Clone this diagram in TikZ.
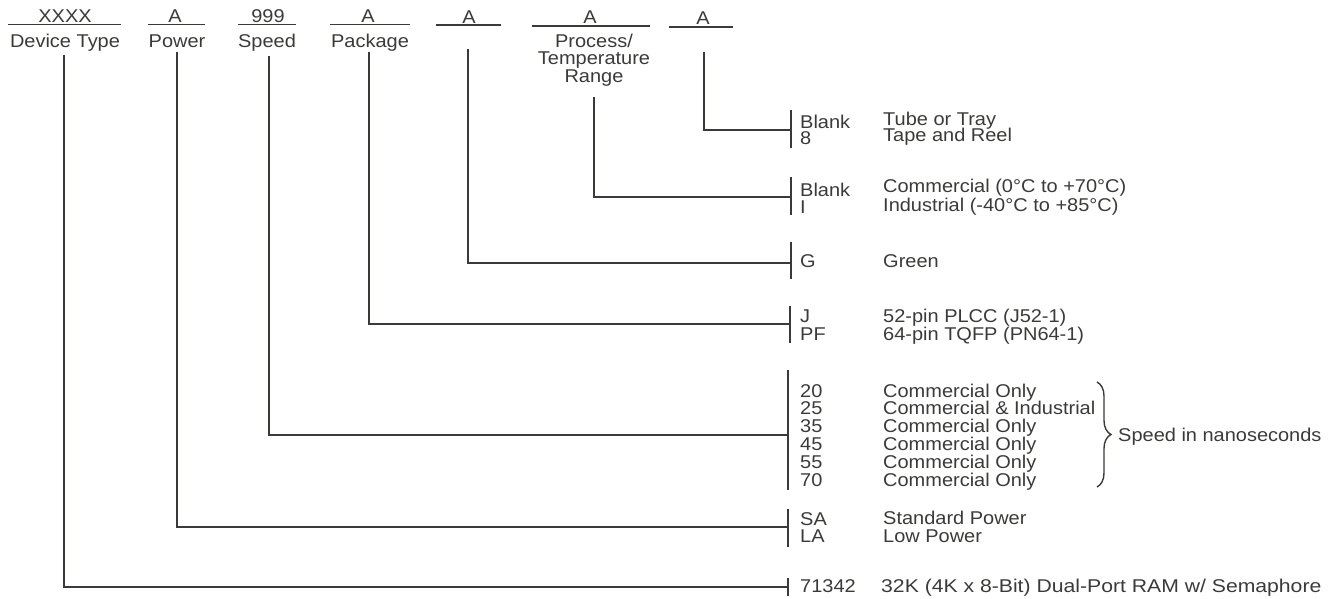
\documentclass[tikz,border=0pt]{standalone}
\usepackage{fontspec}
\setmainfont{Liberation Sans}[FakeStretch=1.08]
\usetikzlibrary{decorations.pathreplacing}
\definecolor{ink}{RGB}{58,58,56}
\begin{document}
\begin{tikzpicture}[x=1pt,y=-1pt,
  every node/.style={inner sep=0pt, text=ink, font=\fontsize{18.5}{17}\selectfont},
  txt/.style={anchor=base west},
  ctr/.style={anchor=base},
  uline/.style={draw=ink, line width=1.8pt},
  wire/.style={draw=ink, line width=1.6pt},
  bar/.style={draw=ink, line width=1.9pt}]
\useasboundingbox (0,0) rectangle (1336,599);

% ---------------- header fields
\node[ctr] (f1) at (65,23) {XXXX};
\node[ctr] (f2) at (175,23) {A};
\node[ctr] (f3) at (268,23) {999};
\node[ctr] (f4) at (368,23) {A};
\node[ctr] (f5) at (469,23.5) {A};
\node[ctr] (f6) at (590,24) {A};
\node[ctr] (f7) at (703,25) {A};
\draw[uline] (8,24.5) -- (121,24.5);
\draw[uline] (148,24.5) -- (205,24.5);
\draw[uline] (238,24.5) -- (296,24.5);
\draw[uline] (330,24.5) -- (410,24.5);
\draw[uline] (436,25) -- (501,25);
\draw[uline] (532,25.7) -- (650,25.7);
\draw[uline] (669,26.7) -- (733,26.7);

\node[ctr] (l1) at (65,48) {Device Type};
\node[ctr] (l2) at (177,48) {Power};
\node[ctr] (l3) at (267,48) {Speed};
\node[ctr] (l4) at (370,48) {Package};
\node[ctr] (l6a) at (594,48) {Process/};
\node[ctr] (l6b) at (594,65) {Temperature};
\node[ctr] (l6c) at (594,82.7) {Range};

% ---------------- connector starts
\coordinate (v1) at (64,55);
\coordinate (v2) at (177,52);
\coordinate (v3) at (269,56);
\coordinate (v4) at (369,52);
\coordinate (v5) at (468,49);
\coordinate (v6) at (594,97);
\coordinate (v7) at (704,52);

% ---------------- bars (option groups)
\coordinate (b7) at (791,130);
\coordinate (b6) at (791,197);
\coordinate (b5) at (791,263);
\coordinate (b4) at (790,324);
\coordinate (b3) at (788,435);
\coordinate (b2) at (788,527);
\coordinate (b1) at (788,587);

\draw[bar] (791,110) -- (791,148);
\draw[bar] (791,177) -- (791,215);
\draw[bar] (791,242) -- (791,279);
\draw[bar] (790,306) -- (790,343);
\draw[bar] (788,370) -- (788,490);
\draw[bar] (788,509) -- (788,547);
\draw[bar] (788,578) -- (788,596);

\draw[wire] (v7) |- (b7);
\draw[wire] (v6) |- (b6);
\draw[wire] (v5) |- (b5);
\draw[wire] (v4) |- (b4);
\draw[wire] (v3) |- (b3);
\draw[wire] (v2) |- (b2);
\draw[wire] (v1) |- (b1);

% ---------------- option texts
\node[txt] (c7a) at (800,129) {Blank};
\node[txt] (c7b) at (800,145) {8};
\node[txt] (d7a) at (883,126) {Tube or Tray};
\node[txt] (d7b) at (883,142) {Tape and Reel};

\node[txt] (c6a) at (800,196) {Blank};
\node[txt] (c6b) at (800,213) {I};
\node[txt] (d6a) at (883,193) {Commercial (0°C to +70°C)};
\node[txt] (d6b) at (883,211) {Industrial (-40°C to +85°C)};

\node[txt] (c5a) at (800,267) {G};
\node[txt] (d5a) at (883,267) {Green};

\node[txt] (c4a) at (800,322) {J};
\node[txt] (c4b) at (800,340) {PF};
\node[txt] (d4a) at (883,322) {52-pin PLCC (J52-1)};
\node[txt] (d4b) at (883,340) {64-pin TQFP (PN64-1)};

\foreach \c/\d [count=\i] in {20/Commercial Only, 25/Commercial \& Industrial, 35/Commercial Only, 45/Commercial Only, 55/Commercial Only, 70/Commercial Only}{
  \node[txt] (c3\i) at (800,{397+17.8*(\i-1)}) {\c};
  \node[txt] (d3\i) at (883,{397+17.8*(\i-1)}) {\d};
}
\coordinate (brtop) at (1097,382);
\coordinate (brbot) at (1097,487);
\draw[draw=ink, line width=1.4pt, decorate, decoration={brace, amplitude=14pt}] (brtop) -- (brbot);
\node[txt] (speednote) at (1118,441) {Speed in nanoseconds};

\node[txt] (c2a) at (800,525) {SA};
\node[txt] (c2b) at (800,542) {LA};
\node[txt] (d2a) at (883,524) {Standard Power};
\node[txt] (d2b) at (883,542) {Low Power};

\node[txt] (c1a) at (800,592) {71342};
\node[txt] (d1a) at (881,592) {\scalebox{1.06}[1]{32K (4K x 8-Bit) Dual-Port RAM w/ Semaphore}};
\end{tikzpicture}
\end{document}
